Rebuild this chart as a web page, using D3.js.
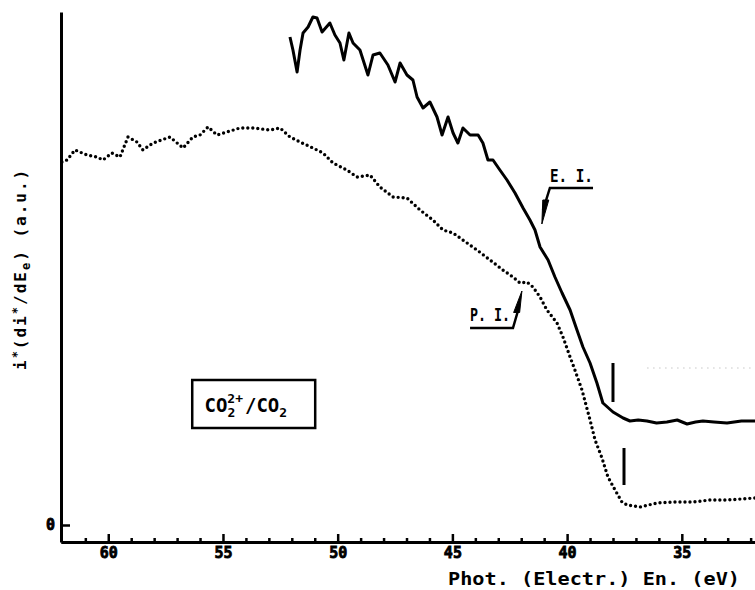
<!DOCTYPE html>
<html>
<head>
<script src="https://cdn.jsdelivr.net/npm/d3@7/dist/d3.min.js"></script>
<style>
  body { margin: 0; background: #fff; }
  svg { display: block; }
  text { font-family: "DejaVu Sans Mono", monospace; font-weight: bold; fill: #000; }
</style>
</head>
<body>
<svg id="chart" width="755" height="590"></svg>
<script>
// photon energy (eV) and yield (a.u.)
var eiEnergy = [52.08, 51.95, 51.77, 51.64, 51.51, 51.29, 51.08, 50.90, 50.68, 50.34, 50.12, 49.90, 49.73, 49.51, 49.33, 49.03, 48.68, 48.46, 48.16, 47.81, 47.50, 47.28, 46.98, 46.72, 46.54, 46.28, 45.98, 45.67, 45.45, 45.19, 44.97, 44.76, 44.54, 44.23, 43.88, 43.67, 43.45, 43.23, 42.93, 42.62, 42.27, 41.92, 41.62, 41.40, 41.18, 40.83, 40.53, 40.22, 39.87, 39.57, 39.31, 39.00, 38.70, 38.44, 38.00, 37.56, 37.26, 36.90, 36.52, 36.10, 35.65, 35.20, 34.77, 34.40, 34.08, 33.60, 33.03, 32.40, 31.81];
var eiValue  = [97.6, 95.0, 90.6, 95.0, 98.4, 99.6, 101.6, 101.4, 98.6, 100.4, 98.0, 96.4, 93.0, 98.4, 96.4, 95.0, 90.0, 94.0, 94.4, 92.0, 88.6, 92.4, 90.0, 89.0, 85.6, 83.4, 84.6, 81.6, 78.0, 81.6, 78.4, 76.4, 79.4, 78.0, 78.0, 76.4, 73.0, 73.0, 71.0, 69.0, 66.4, 63.4, 61.0, 59.0, 55.6, 53.0, 49.6, 46.4, 43.0, 39.0, 35.6, 32.4, 28.4, 24.4, 22.6, 21.4, 20.8, 21.0, 20.8, 20.4, 20.6, 21.0, 20.2, 20.6, 20.8, 20.6, 20.4, 20.8, 20.8];

var piEnergy = [62.02, 61.80, 61.45, 60.93, 60.49, 60.23, 59.84, 59.49, 59.14, 58.75, 58.49, 58.05, 57.31, 56.74, 56.31, 56.00, 55.65, 55.26, 54.83, 54.26, 53.69, 52.95, 52.51, 52.08, 51.64, 51.08, 50.64, 50.20, 49.60, 49.16, 48.59, 48.16, 47.59, 46.98, 46.41, 45.85, 45.41, 44.97, 44.36, 43.93, 43.36, 42.80, 42.36, 42.05, 41.75, 41.49, 41.18, 40.88, 40.44, 40.18, 39.87, 39.66, 39.35, 39.00, 38.78, 38.48, 38.22, 37.91, 37.61, 37.39, 36.82, 36.08, 35.38, 34.51, 33.77, 33.03, 31.81];
var piValue  = [72.6, 73.0, 75.0, 74.0, 73.6, 73.0, 74.4, 73.6, 77.6, 76.6, 75.0, 76.4, 77.6, 75.4, 77.6, 78.0, 79.6, 78.0, 78.6, 79.4, 79.4, 79.0, 79.4, 77.6, 76.6, 75.4, 74.4, 72.4, 71.0, 69.6, 70.0, 67.6, 65.6, 65.4, 63.0, 61.0, 59.0, 58.4, 56.4, 55.0, 53.0, 51.0, 49.6, 48.4, 48.6, 47.6, 45.6, 43.0, 40.4, 37.6, 33.6, 31.0, 27.0, 21.0, 17.0, 13.4, 9.6, 7.0, 4.6, 4.0, 3.6, 4.4, 4.6, 4.6, 5.0, 5.0, 5.4];

var majorTicks = [60, 55, 50, 45, 40, 35];
var minorTicks = d3.range(32, 62).filter(function(d){ return d % 5 !== 0; });
var yTicks = [0];

// threshold markers [energy, from, to]
var markers = [[38.00, 24.6, 32.4], [37.52, 8.0, 15.4]];

var svg = d3.select("#chart");
var x = d3.scaleLinear().domain([62.06, 31.81]).range([61, 755]);
var y = d3.scaleLinear().domain([-3.4, 102.6]).range([542, 12]);

// faint dotted guide at right
svg.append("line")
  .attr("x1", x(36.5)).attr("x2", x(31.81)).attr("y1", y(31.4)).attr("y2", y(31.4))
  .attr("stroke", "#aaa").attr("stroke-width", 1).attr("stroke-dasharray", "1,5");

// axes
var xMinor = d3.axisBottom(x).tickValues(minorTicks).tickFormat("").tickSizeInner(-4).tickSizeOuter(0);
var xMajor = d3.axisBottom(x).tickValues(majorTicks).tickFormat(d3.format("d")).tickSizeInner(-8).tickSizeOuter(0).tickPadding(5);

var gMinor = svg.append("g").attr("transform", "translate(0," + y(-3.4) + ")").call(xMinor);
var gMajor = svg.append("g").attr("transform", "translate(0," + y(-3.4) + ")").call(xMajor);
gMinor.select(".domain").attr("stroke-width", 3);
gMajor.select(".domain").attr("stroke-width", 3);
gMinor.selectAll("line").attr("stroke-width", 2.5);
gMajor.selectAll("line").attr("stroke-width", 2.5);
gMajor.selectAll("text").style("font-size", "15px").style("font-family", "DejaVu Sans Mono, monospace").style("font-weight", "bold")
  .attr("stroke", "#000").attr("stroke-width", 0.8);

var yAxis = d3.axisLeft(y).tickValues(yTicks).tickSizeInner(-9).tickSizeOuter(0).tickPadding(6);
var gY = svg.append("g").attr("transform", "translate(" + x(62.06) + ",0)").call(yAxis);
gY.select(".domain").attr("stroke-width", 3);
gY.selectAll("line").attr("stroke-width", 2.5);
gY.selectAll("text").style("font-size", "15px").style("font-family", "DejaVu Sans Mono, monospace").style("font-weight", "bold")
  .attr("stroke", "#000").attr("stroke-width", 0.8);

// curves
var eiData = eiEnergy.map(function(e, i){ return [e, eiValue[i]]; });
var piData = piEnergy.map(function(e, i){ return [e, piValue[i]]; });
var line = d3.line().x(function(d){ return x(d[0]); }).y(function(d){ return y(d[1]); });

svg.append("path").attr("d", line(piData))
  .attr("fill", "none").attr("stroke", "#000").attr("stroke-width", 3.4)
  .attr("stroke-linecap", "round").attr("stroke-dasharray", "0,5");

svg.append("path").attr("d", line(eiData))
  .attr("fill", "none").attr("stroke", "#000").attr("stroke-width", 3)
  .attr("stroke-linejoin", "round");

svg.selectAll(".marker").data(markers).enter().append("line")
  .attr("class", "marker")
  .attr("x1", function(d){ return x(d[0]); }).attr("x2", function(d){ return x(d[0]); })
  .attr("y1", function(d){ return y(d[1]); }).attr("y2", function(d){ return y(d[2]); })
  .attr("stroke", "#000").attr("stroke-width", 3);

// E.I. label with leader
svg.append("text").attr("x", x(40.75)).attr("y", y(68.6))
  .attr("textLength", 43).attr("lengthAdjust", "spacingAndGlyphs")
  .style("font-size", "17px").text("E. I.");
svg.append("polyline")
  .attr("points", [[x(38.87), y(67.4)], [x(40.75), y(67.4)], [x(41.05), y(63.0)]].join(" "))
  .attr("fill", "none").attr("stroke", "#000").attr("stroke-width", 2.5);
svg.append("path")
  .attr("d", "M" + (x(40.93) - 3) + "," + y(65) + "L" + (x(40.93) + 3) + "," + y(65) + "L" + x(41.1) + "," + y(60.2) + "Z")
  .attr("fill", "#000").attr("stroke", "#000").attr("stroke-width", 1);

// P.I. label with leader
svg.append("text").attr("x", x(44.23)).attr("y", y(40.8))
  .attr("textLength", 40).attr("lengthAdjust", "spacingAndGlyphs")
  .style("font-size", "17px").text("P. I.");
svg.append("polyline")
  .attr("points", [[x(44.23), y(39.4)], [x(42.36), y(39.4)], [x(42.1), y(43.5)]].join(" "))
  .attr("fill", "none").attr("stroke", "#000").attr("stroke-width", 2.5);
svg.append("path")
  .attr("d", "M" + (x(42.2) - 3) + "," + y(42.5) + "L" + (x(42.2) + 3) + "," + y(42.5) + "L" + x(41.97) + "," + y(46.8) + "Z")
  .attr("fill", "#000").attr("stroke", "#000").attr("stroke-width", 1);

// species box
svg.append("rect").attr("x", x(56.34)).attr("y", y(29)).attr("width", x(50.98) - x(56.34)).attr("height", y(19.4) - y(29))
  .attr("fill", "none").attr("stroke", "#000").attr("stroke-width", 2.5);
var boxText = svg.append("text").attr("x", x(55.8)).attr("y", y(22.6)).style("font-size", "19px");
boxText.append("tspan").text("CO");
boxText.append("tspan").attr("dy", 5).style("font-size", "13px").text("2");
boxText.append("tspan").attr("dx", -8).attr("dy", -14).style("font-size", "13px").text("2+");
boxText.append("tspan").attr("dx", 2).attr("dy", 9).text("/CO");
boxText.append("tspan").attr("dy", 5).style("font-size", "13px").text("2");

// axis titles
svg.append("text").attr("x", 448).attr("y", 585)
  .attr("textLength", 292).attr("lengthAdjust", "spacingAndGlyphs")
  .style("font-size", "17px").text("Phot. (Electr.) En. (eV)");

var yl = svg.append("text").attr("transform", "translate(26,370) rotate(-90)")
  .style("font-size", "16px").style("letter-spacing", "2px");
yl.append("tspan").text("i");
yl.append("tspan").attr("dy", -5).style("font-size", "12px").text("*");
yl.append("tspan").attr("dy", 5).text("(di");
yl.append("tspan").attr("dy", -5).style("font-size", "12px").text("*");
yl.append("tspan").attr("dy", 5).text("/dE");
yl.append("tspan").attr("dy", 4).style("font-size", "12px").text("e");
yl.append("tspan").attr("dy", -4).text(")  (a.u.)");
</script>
</body>
</html>
